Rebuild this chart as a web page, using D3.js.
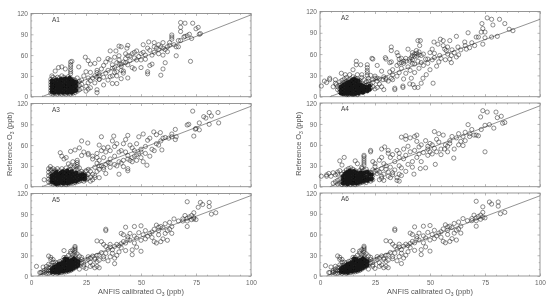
<!DOCTYPE html>
<html>
<head>
<meta charset="utf-8">
<script src="https://cdn.jsdelivr.net/npm/d3@7"></script>
<style>
  html, body { margin: 0; padding: 0; background: #fff; }
  svg { display: block; font-family: "Liberation Sans", Arial, sans-serif; }
  .tick text { fill: #666; font-size: 6.5px; }
  .axis-title { fill: #555; font-size: 7.4px; }
  .panel-label { fill: #444; font-size: 6.5px; }
</style>
</head>
<body>
<div id="chart"></div>
<script>
const panelNames = ['A1', 'A2', 'A3', 'A4', 'A5', 'A6'];
const xMajorTicks = [0, 25, 50, 75, 100];
const yMajorTicks = [0, 30, 60, 90, 120];
const xMinorTicks = [5, 10, 15, 20, 30, 35, 40, 45, 55, 60, 65, 70, 80, 85, 90, 95];
const yMinorTicks = [10, 20, 40, 50, 70, 80, 100, 110];

// fit line end points [x0, y0, x1, y1]
const fitLines = {
  A1: [5, 0, 100, 118],
  A2: [4.5, 0, 100, 109],
  A3: [5, 0, 100, 116],
  A4: [4.5, 0, 100, 116],
  A5: [3, 0, 100, 117],
  A6: [3, 0, 100, 116]
};

// [calibrated, reference] pairs
const pointsA1 = [
[9.5,30],[11,37],[12.5,42],[14,43],[15.6,40],[18,50],[18.6,51],[18,46],[18,43],[18,39],[18,36],[18,33],[21.7,43],[24.7,57],[26,52],[27,47],[29,48],[30.8,54],
[36,66],[40,73],[41,72],[38.6,66],[44,74],[43.6,70],[51,75],[53.5,79],[56,78],[58,75],[60,78],[59,72],[53,70],[54,67],[56,64],[57,70],[58,62],[60,70],[61,68],[62,72],[63,78],[64,83],[64,86],[64,89],
[68,107],[70,106],[73.5,106],[68,100],[68,94],[72,90],[70,87],[71,88],[76,100],[75,98],[77,91],[76.5,90],[73,84],[68,81],[67,81],[69.5,86],[72.5,51],[66,59],[67,72],[63,74],[61,49],[60,40],[59,31],[54,45],[55,47],[53,33],[53,36],[47,40],[50,42],[48,53],[50,53],[44,27],[41,38],[39,19],[37,19],[36,29],[35,24],[33,17],[31,25],[29,20],[27,13],[25,15],
[30,38],[30,35],[31,33],[32,40],[33,45],[34,50],[35,55],[36,53],[37,46],[38,42],[38,57],[38,35],[39,30],[39,49],[40,53],[40,59],[41,44],[41,26],[42,34],[42,37],[42,50],[43,62],[43,55],[44,46],[45,52],[45,59],[46,42],[46,62],[47,64],[47,56],[48,66],[49,58],[50,62],[51,64],[52,54],[52,60],[55,60],[56,72],[58,68],[60,60],[62,65],[65,75],[66,72],
[24,30],[25,36],[26,20],[26,27],[27,35],[27,23],[28,27],[29,30],[30,28],[31,30],[31,25],[30,10],[25,8],[26,11],[30,6],[33,28],[34,34],[35,38],[37,30],[37,41],[39,36],[41,47],[43,49],[44,59],[40,47],
[9,5],[9,9],[9,13],[9,17],[9,21],[9,25],[10,4],[10,8],[10,12],[10,16],[10,20],[10,24],[10,28],[11,5],[11,10],[11,14],[11,18],[11,22],[11,26],[12,4],[12,8],[12,12],[12,16],[12,20],[12,24],[12,28],[13,5],[13,9],[13,14],[13,18],[13,23],[13,27],[14,4],[14,8],[14,12],[14,17],[14,21],[14,25],[14,30],[15,5],[15,10],[15,14],[15,19],[15,23],[15,28],[16,4],[16,8],[16,12],[16,17],[16,22],[16,26],[17,5],[17,9],[17,14],[17,19],[17,24],[17,29],[18,4],[18,8],[18,12],[18,16],[18,21],[18,26],[19,5],[19,10],[19,15],[19,20],[19,25],[20,6],[20,12],[20,18],[20,24],[21,8],[21,14],[21,20],[21,27],[22,10],[22,16],[22,22],[23,12],[23,18],[23,24]
];
const clusterA1 = [
[9.5,7],[9.5,11],[9.5,15],[9.5,19],[9.5,23],[10.5,6],[10.5,10],[10.5,14],[10.5,18],[10.5,22],[11.5,7],[11.5,12],[11.5,16],[11.5,20],[11.5,24],[12.5,6],[12.5,10],[12.5,14],[12.5,18],[12.5,22],[13.5,7],[13.5,11],[13.5,16],[13.5,20],[13.5,25],[14.5,6],[14.5,10],[14.5,15],[14.5,19],[14.5,24],[15.5,7],[15.5,12],[15.5,16],[15.5,21],[15.5,26],[16.5,6],[16.5,10],[16.5,15],[16.5,19],[16.5,24],[17.5,7],[17.5,11],[17.5,16],[17.5,21],[17.5,27],[18.5,6],[18.5,10],[18.5,14],[18.5,19],[18.5,24],[19.5,8],[19.5,12],[19.5,17],[19.5,22],[20.5,9],[20.5,15],[20.5,21]
];

const pointsA2 = [
[0.6,15],[2,22],[4.4,26],[4.4,24],[7,24],[7,19],[7.4,17],[9.7,33],[11.5,31],[13.5,31],[15,38],[16.5,50],[16.5,45],[18.5,45],[21.5,45],[21.5,41],[21.5,37],[21.5,34],[21.5,30],[23.6,54],[24,53],[26,44],[28,36],[28.6,24],[30,24],[29,10],[29.7,55],[30,53],[31.7,48],[32.4,49],[32.4,70],[32.4,65],[31.7,35],[32.4,26],[33,31],[34,12],[34,10],[35,62],[35.5,58],[36,53],[37,54],[37.7,13],[37.7,15],[40,67],[40.8,53],[41.5,55],[43,60],[43.8,65],[44.5,79],[45.6,79],[45.3,72],[46,58],[44.5,50],[43,46],[41.5,26],[40.8,18],[42.3,17],[43,13],[44.5,13],[46,19],[46.8,26],[48.3,31],[50,38],[49,53],[50,62],[51.4,19],[51,67],[51.8,77],[53.6,74],[54.7,81],[56,79],[53,43],[52,55],[54.4,58],[56.7,67],[57.4,65],[58,60],[59,53],[59.7,58],[59.7,48],[59,79],[62,85],[62.7,70],[65.8,77],[66.5,67],[67.3,90],[70.3,72],[71,84],[72,84],[73.3,91],[73.6,103],[74,96],[75,91],[74,74],[75,83],[76,111],[78,109],[78.6,101],[78,84],[80.6,85],[81.6,109],[84,103],[86,95],[87.7,93],
[25,26],[26,22],[27,25],[29,28],[31,22],[33,24],[33,38],[35,29],[35,44],[36,34],[37,40],[38,25],[38,47],[39,33],[39,50],[40,42],[41,37],[42,47],[42,62],[43,34],[44,57],[45,40],[46,48],[47,44],[47,60],[48,53],[49,47],[51,52],[52,61],[54,49],[55,54],[56,72],[57,52],[58,70],[60,66],[61,62],[62,56],[63,59],[64,66],[66,72],[68,69],[69,76],[36,47],[37,48],[38,50],[39,54],[41,50],[42,52],[43,57],[44,61],[45,59],[45,63],[42,58],
[18,20],[18,23],[19,27],[19,31],[20,24],[22,18],[22,22],[22,26],[23,12],[23,17],[23,30],[24,14],[24,20],[24,24],[25,11],[25,29],[26,13],[26,26],[27,18],[28,14],[30,26],
[8,10],[8,14],[9,7],[9,11],[9,16],[9,21],[10,5],[10,9],[10,13],[10,18],[10,23],[11,4],[11,7],[11,11],[11,15],[11,20],[11,25],[12,3],[12,6],[12,10],[12,14],[12,18],[12,22],[12,27],[13,3],[13,7],[13,11],[13,15],[13,19],[13,24],[14,4],[14,8],[14,12],[14,16],[14,20],[14,25],[15,3],[15,6],[15,10],[15,14],[15,18],[15,22],[15,28],[16,4],[16,8],[16,12],[16,16],[16,20],[16,26],[17,3],[17,7],[17,11],[17,15],[17,20],[17,25],[17,31],[18,5],[18,10],[18,15],[19,8],[19,13],[19,18],[20,7],[20,12],[20,17],[21,10],[21,16],[21,21],[3,20],[6,14]
];
const clusterA2 = [
[9.5,5],[9.5,9],[9.5,14],[10.5,4],[10.5,7],[10.5,11],[10.5,16],[11.5,5],[11.5,9],[11.5,13],[11.5,18],[12.5,4],[12.5,8],[12.5,12],[12.5,16],[12.5,20],[13.5,5],[13.5,9],[13.5,13],[13.5,17],[13.5,21],[14.5,4],[14.5,6],[14.5,10],[14.5,14],[14.5,18],[14.5,23],[15.5,4],[15.5,8],[15.5,12],[15.5,16],[15.5,20],[15.5,25],[16.5,5],[16.5,10],[16.5,14],[16.5,18],[16.5,23],[17.5,5],[17.5,9],[17.5,13],[17.5,17],[17.5,22],[18.5,7],[18.5,12],[18.5,17],[19.5,6],[19.5,10],[19.5,15],[20.5,9],[20.5,14],[21.5,8],[21.5,13],[22.5,10],[22.5,15]
];

const pointsA3 = [
[6,10],[8.8,29],[8,26],[9,25],[11,22],[13.3,49],[14,44],[15,40],[16,42],[18,51],[20,53],[22,56],[23,45],[24,50],[23,66],[25.8,63],[26,48],[26,46],[21,38],[21,35],[21,32],[21,29],[19,36],[17,33],[28,44],[29,28],[28,40],[30,42],[29,16],[31,38],[30,22],[31,13],[32,30],[31,25],[32,72],[31,60],[32,52],[33,56],[33,25],[34,19],[34,50],[35,57],[35,35],[36,52],[36,34],[36,28],[37.6,73],[37,66],[38,58],[38,44],[39,30],[39,62],[40,50],[40,18],[41,52],[41,34],[42,29],[42,62],[43,68],[43,50],[44,74],[44,26],[44,23],[44,45],[45,38],[45,60],[46,56],[46,36],[47,44],[47,52],[48,38],[48,62],[49,72],[49,48],[50,54],[50,42],[51,76],[51,36],[52,48],[52,58],[52.7,31],[53,67],[54,70],[54,44],[55,54],[55.8,79],[56,52],[57,75],[57,62],[58.8,78],[58,60],[59.5,53],[59,66],[60,70],[61,71],[62.6,70],[64,76],[65.6,68],[65.6,82.6],[64,72],[66,72],[71,89],[71.7,90],[73.5,109],[74,73],[74.7,83],[75,84],[76.5,82],[76.5,92],[78.5,101],[79.5,99],[81,107],[82,102],[81,90],[85,107],[85.3,92],[50,50],[48,46],[46,42],[44,40],[42,38],[40,36],[38,32],[36,40],[34,32],[33,28],[33,42],[31,30],[30,34],[30,48],
[8,7],[8,11],[8,16],[8,21],[9,5],[9,9],[9,14],[9,18],[9,23],[10,4],[10,8],[10,12],[10,16],[10,21],[10,26],[11,5],[11,9],[11,14],[11,18],[11,24],[12,3],[12,7],[12,11],[12,16],[12,21],[12,26],[13,4],[13,8],[13,13],[13,18],[13,23],[14,3],[14,7],[14,11],[14,15],[14,20],[14,26],[15,4],[15,8],[15,13],[15,18],[15,23],[16,3],[16,7],[16,11],[16,16],[16,21],[16,27],[17,4],[17,8],[17,13],[17,18],[17,24],[18,5],[18,9],[18,14],[18,19],[18,25],[18,30],[19,5],[19,10],[19,15],[19,21],[19,28],[20,6],[20,11],[20,17],[20,23],[20,30],[21,7],[21,13],[21,19],[21,25],[22,8],[22,14],[22,20],[22,27],[23,9],[23,15],[23,22],[24,8],[24,13],[24,19],[25,10],[25,16],[25,23],[26,12],[26,18],[26,25],[27,8],[27,14],[27,22],[28,10],[28,18],[29,13]
];
const clusterA3 = [
[9.5,7],[9.5,12],[9.5,16],[10.5,6],[10.5,10],[10.5,14],[10.5,18],[11.5,4],[11.5,7],[11.5,11],[11.5,16],[11.5,21],[12.5,5],[12.5,9],[12.5,13],[12.5,18],[13.5,6],[13.5,10],[13.5,15],[13.5,20],[14.5,5],[14.5,9],[14.5,13],[14.5,17],[14.5,22],[15.5,6],[15.5,10],[15.5,15],[15.5,20],[16.5,5],[16.5,9],[16.5,13],[16.5,18],[16.5,23],[17.5,6],[17.5,10],[17.5,15],[17.5,20],[18.5,7],[18.5,12],[18.5,16],[18.5,22],[19.5,8],[19.5,12],[19.5,18],[20.5,8],[20.5,14],[20.5,20],[21.5,10],[21.5,16],[22.5,11],[22.5,17],[23.5,12],[23.5,18],[24.5,11],[24.5,16]
];

const pointsA4 = [
[0.6,15],[3,17],[3,15],[4,19],[5,15],[7,17],[6,20],[8,21],[8,18],[9,23],[9,37],[11,42],[10,31],[14,27],[16,37],[17,33],[19,26],[20,43],[20,45],[20,40],[20,37],[20,34],[20,31],[23,52],[23,50],[24,36],[25,29],[25,33],[26,23],[27,38],[28,54],[28,26],[28,42],[29.4,57],[29,18],[29,33],[30,30],[31,48],[31,15],[31,52],[32,42],[32,28],[33,17],[33,46],[34,36],[34,24],[35,52],[36,42],[36,30],[36,48],[37,71],[37,16],[37,27],[38,54],[38,40],[39,73],[39,68],[39,22],[39,45],[40,32],[40,58],[41,70],[41,50],[42,36],[42.7,18],[42,28],[43,72],[43,52],[44,74],[44,42],[44,65],[45,47],[45,57],[45.6,26],[46,36],[46,60],[47,49],[48,66],[48,27],[49,54],[49,58],[49,45],[50,62],[50,50],[51,47],[51,60],[52,79],[52,55],[52.4,32],[53,68],[53,50],[54,76],[54,64],[55,54],[55,46],[56,74],[56.6,54],[57,60],[58,58],[58,50],[59,66],[59,62],[60,72],[60.8,41],[61,54],[62,70],[63,76],[63,60],[64,65],[65,59],[65,72],[66,66],[66,78],[67.3,89],[68,72],[69,82],[70,74],[72,73],[73.3,82],[73,100],[74,109],[76,107],[75,50],[75,88],[77,89],[79,84],[80,107],[80.6,99],[82.4,101],[83,91],[84,92],[71,74],[68,76],
[25,22],[26,19],[27,21],[27,10],[28,12],[28,15],[29,9],[30,25],[31,21],[32,13],[33,20],[35,9],[35,13],[36,18],[36,8],
[6,5],[7,7],[8,4],[8,9],[9,5],[9,11],[10,3],[10,7],[10,13],[10,18],[11,4],[11,8],[11,12],[11,16],[11,21],[12,3],[12,6],[12,10],[12,14],[12,19],[12,24],[13,4],[13,8],[13,12],[13,16],[13,20],[13,26],[14,3],[14,7],[14,11],[14,15],[14,19],[14,23],[15,4],[15,8],[15,12],[15,16],[15,20],[15,25],[16,3],[16,6],[16,10],[16,14],[16,18],[16,23],[17,4],[17,8],[17,12],[17,16],[17,21],[18,5],[18,9],[18,13],[18,18],[18,23],[19,6],[19,11],[19,16],[19,22],[19,28],[20,7],[20,12],[20,18],[20,24],[21,6],[21,11],[21,17],[21,25],[22,9],[22,15],[22,21],[23,8],[23,14],[23,20],[24,10],[24,16],[24,24]
];
const clusterA4 = [
[10.5,5],[10.5,10],[10.5,15],[11.5,6],[11.5,10],[11.5,14],[11.5,19],[12.5,4],[12.5,8],[12.5,12],[12.5,16],[12.5,21],[13.5,6],[13.5,10],[13.5,14],[13.5,18],[13.5,23],[14.5,5],[14.5,9],[14.5,13],[14.5,17],[14.5,21],[15.5,6],[15.5,10],[15.5,14],[15.5,18],[15.5,22],[16.5,5],[16.5,8],[16.5,12],[16.5,16],[16.5,20],[17.5,6],[17.5,10],[17.5,14],[17.5,19],[18.5,7],[18.5,11],[18.5,15],[18.5,20],[19.5,8],[19.5,13],[19.5,19],[20.5,9],[20.5,14],[20.5,20],[21.5,9],[21.5,14],[21.5,21],[22.5,11],[22.5,18],[23.5,11],[23.5,17]
];

const pointsA5 = [
[2.5,14],[4,5],[4.5,5],[5,6],[5.5,13],[7,14],[8,29],[9,27],[9,24],[10,20],[15,37],[17,30],[18,33],[18,36],[19,38],[20,34],[20,43],[20,41],[20,39],[20,37],[21,32],[22,29],[23,27],[24,20],[24,13],[25,11],[26,24],[27,20],[27,14],[28,16],[29,12],[29,26],[30,30],[30,14],[30,21],[31,12],[31,23],[30,51],[32,50],[33,46],[33,28],[33,25],[34,66],[34,68],[34,43],[34,33],[35,22],[35,39],[36,46],[36,42],[36,28],[37,38],[37,33],[38,26],[38,43],[38,18],[39,30],[39,46],[40,44],[40,35],[41,47],[41,41],[41,62],[42,50],[43,48],[43,37],[42,60],[43,71],[44,57],[44,54],[45,52],[45,62],[46,31],[46,38],[47,72],[47,48],[47,58],[48,42],[48,55],[49,63],[50,36],[50,52],[50,73],[51,60],[52,54],[52,66],[53,58],[54,62],[55,56],[55,64],[56,68],[56,50],[57,48],[57,74],[58,66],[58,60],[59,50],[59,72],[60,70],[60,54],[61,62],[61,76],[62,52],[62,66],[63,78],[63,68],[64,72],[64,62],[58,71],[65,83],[67,80],[69,83],[69,80],[70,88],[71,84],[71,72],[71,80],[72,86],[73,88],[73,82],[74,92],[74,85],[75,82],[76,100],[71,108],[77,107],[78,104],[81,101],[81,107],[82,90],[84,92],[74,83],
[6,8],[6,5],[7,4],[7,7],[7,10],[8,4],[8,8],[8,12],[8,17],[9,5],[9,8],[9,12],[9,16],[10,4],[10,7],[10,11],[10,15],[10,24],[11,5],[11,8],[11,12],[11,16],[11,20],[12,4],[12,7],[12,11],[12,15],[12,19],[13,5],[13,8],[13,12],[13,16],[13,21],[14,5],[14,9],[14,13],[14,17],[14,22],[15,6],[15,10],[15,14],[15,18],[15,23],[15,27],[16,6],[16,10],[16,14],[16,18],[16,22],[16,27],[17,7],[17,11],[17,15],[17,19],[17,24],[18,8],[18,12],[18,16],[18,20],[18,25],[19,10],[19,14],[19,18],[19,22],[19,27],[19,31],[20,12],[20,16],[20,21],[20,26],[20,30],[21,14],[21,18],[21,24],[22,10],[22,16],[22,22],[23,19],[23,24],[24,16],[25,22],[26,28],[27,26],[28,29],[29,24],[31,30],[32,34]
];
const clusterA5 = [
[9.5,6],[9.5,10],[10.5,6],[10.5,9],[10.5,13],[11.5,6],[11.5,10],[11.5,14],[12.5,5],[12.5,9],[12.5,13],[12.5,17],[13.5,7],[13.5,10],[13.5,14],[13.5,18],[14.5,7],[14.5,11],[14.5,15],[14.5,20],[15.5,8],[15.5,12],[15.5,16],[15.5,20],[15.5,25],[16.5,8],[16.5,12],[16.5,16],[16.5,20],[16.5,24],[17.5,9],[17.5,13],[17.5,17],[17.5,22],[18.5,10],[18.5,14],[18.5,18],[18.5,23],[19.5,12],[19.5,16],[19.5,20],[19.5,25],[20.5,14],[20.5,19],[20.5,23],[21.5,16],[21.5,21]
];

const pointsA6 = [
[2.5,15],[4,5],[4.5,5],[5,13],[6,6],[7,14],[8,29],[9,27],[9,24],[10,20],[15,37],[17,30],[18,33],[18,36],[19,38],[20,34],[20,43],[20,41],[20,39],[20,37],[21,32],[22,29],[23,27],[24,20],[24,14],[25,11],[26,24],[27,19],[27,14],[28,16],[29,12],[29,26],[30,30],[30,14],[30,21],[31,12],[31,23],[30,51],[32,50],[33,46],[33,28],[33,25],[34,66],[34,68],[34,43],[34,33],[35,22],[35,39],[36,46],[36,42],[36,28],[37,38],[37,33],[38,26],[38,43],[37,18],[39,30],[39,46],[40,44],[40,35],[41,47],[41,41],[41,62],[42,50],[43,48],[43,37],[42,60],[43,71],[44,57],[44,54],[45,52],[45,62],[46,31],[46,38],[47,72],[47,48],[47,58],[48,42],[48,55],[49,63],[50,36],[50,52],[50,73],[51,60],[52,54],[52,66],[53,58],[54,62],[55,56],[55,64],[56,68],[56,50],[57,48],[57,74],[58,66],[58,60],[59,50],[59,72],[60,70],[60,54],[61,62],[61,76],[62,52],[62,66],[63,78],[63,68],[64,72],[64,62],[58,71],[65,83],[67,80],[69,83],[69,80],[70,88],[71,84],[71,72],[71,80],[72,86],[73,88],[73,82],[74,92],[74,85],[75,84],[74,100],[71,108],[77,107],[78,104],[81,101],[81,107],[82,90],[84,92],
[6,8],[6,5],[7,4],[7,7],[7,10],[8,4],[8,8],[8,12],[9,5],[9,8],[9,12],[9,16],[10,4],[10,7],[10,11],[10,15],[10,24],[11,5],[11,8],[11,12],[11,16],[11,20],[12,4],[12,7],[12,11],[12,15],[12,19],[13,5],[13,8],[13,12],[13,16],[13,21],[14,5],[14,9],[14,13],[14,17],[14,22],[15,6],[15,10],[15,14],[15,18],[15,23],[15,27],[16,6],[16,10],[16,14],[16,18],[16,22],[16,27],[17,7],[17,11],[17,15],[17,19],[17,24],[18,8],[18,12],[18,16],[18,20],[18,25],[19,10],[19,14],[19,18],[19,22],[19,27],[19,31],[20,12],[20,16],[20,21],[20,26],[20,30],[21,14],[21,18],[21,24],[22,10],[22,16],[22,22],[23,19],[23,24],[24,16],[25,22],[26,28],[27,26],[28,29],[29,24],[31,30],[32,34]
];
const clusterA6 = [
[9.5,6],[9.5,10],[10.5,6],[10.5,9],[10.5,13],[11.5,6],[11.5,10],[11.5,14],[12.5,5],[12.5,9],[12.5,13],[12.5,17],[13.5,7],[13.5,10],[13.5,14],[13.5,18],[14.5,7],[14.5,11],[14.5,15],[14.5,20],[15.5,8],[15.5,12],[15.5,16],[15.5,20],[15.5,25],[16.5,8],[16.5,12],[16.5,16],[16.5,20],[16.5,24],[17.5,9],[17.5,13],[17.5,17],[17.5,22],[18.5,10],[18.5,14],[18.5,18],[18.5,23],[19.5,12],[19.5,16],[19.5,20],[19.5,25],[20.5,14],[20.5,19],[20.5,23],[21.5,16],[21.5,21]
];

const panelPoints = { A1: pointsA1, A2: pointsA2, A3: pointsA3, A4: pointsA4, A5: pointsA5, A6: pointsA6 };
const panelClusters = { A1: clusterA1, A2: clusterA2, A3: clusterA3, A4: clusterA4, A5: clusterA5, A6: clusterA6 };

const width = 550, height = 303;
const columns = [{ left: 31, right: 251 }, { left: 320, right: 540 }];
const rows = [
  [{ top: 13.5, bottom: 96.7 }, { top: 11.5, bottom: 96.7 }],
  [{ top: 103.5, bottom: 186.7 }, { top: 103, bottom: 186.7 }],
  [{ top: 193.5, bottom: 276 }, { top: 193, bottom: 276 }]
];

const svg = d3.select('#chart').append('svg')
  .attr('width', width)
  .attr('height', height);

// the reference is a soft, resampled picture
const blur = svg.append('defs').append('filter').attr('id', 'soft')
  .attr('x', '-5%').attr('y', '-5%').attr('width', '110%').attr('height', '110%');
blur.append('feGaussianBlur').attr('stdDeviation', 0.35);

panelNames.forEach((name, i) => {
  const col = columns[i % 2];
  const row = rows[Math.floor(i / 2)][i % 2];
  const isBottom = i >= 4;

  const x = d3.scaleLinear().domain([0, 100]).range([col.left, col.right]);
  const y = d3.scaleLinear().domain([0, 120]).range([row.bottom, row.top]);

  const g = svg.append('g').attr('filter', 'url(#soft)');

  g.append('rect')
    .attr('x', col.left).attr('y', row.top)
    .attr('width', col.right - col.left).attr('height', row.bottom - row.top)
    .attr('fill', 'none').attr('stroke', '#8c8c8c').attr('stroke-width', 0.9);

  // inward ticks on all four sides
  const drawTicks = (axis, tx, ty, values, size) => {
    const a = g.append('g').attr('transform', `translate(${tx},${ty})`)
      .call(axis.tickValues(values).tickSize(size).tickFormat(''));
    a.select('.domain').remove();
    a.selectAll('.tick line').attr('stroke', '#8c8c8c').attr('stroke-width', 0.6);
  };
  drawTicks(d3.axisBottom(x), 0, row.bottom, xMajorTicks, -2.5);
  drawTicks(d3.axisBottom(x), 0, row.bottom, xMinorTicks, -1.3);
  drawTicks(d3.axisTop(x), 0, row.top, xMajorTicks, -2.5);
  drawTicks(d3.axisTop(x), 0, row.top, xMinorTicks, -1.3);
  drawTicks(d3.axisLeft(y), col.left, 0, yMajorTicks, -2.5);
  drawTicks(d3.axisLeft(y), col.left, 0, yMinorTicks, -1.3);
  drawTicks(d3.axisRight(y), col.right, 0, yMajorTicks, -2.5);
  drawTicks(d3.axisRight(y), col.right, 0, yMinorTicks, -1.3);

  // tick labels
  const yLabels = g.append('g').attr('transform', `translate(${col.left},0)`)
    .call(d3.axisLeft(y).tickValues(yMajorTicks).tickSize(0).tickPadding(3));
  yLabels.select('.domain').remove();
  if (isBottom) {
    const xLabels = g.append('g').attr('transform', `translate(0,${row.bottom})`)
      .call(d3.axisBottom(x).tickValues(xMajorTicks).tickSize(0).tickPadding(4));
    xLabels.select('.domain').remove();
  }

  // fit line
  const f = fitLines[name];
  g.append('line')
    .attr('x1', x(f[0])).attr('y1', y(f[1]))
    .attr('x2', x(f[2])).attr('y2', y(f[3]))
    .attr('stroke', '#777').attr('stroke-width', 0.8);

  g.selectAll('.point')
    .data(panelPoints[name])
    .join('circle')
    .attr('class', 'point')
    .attr('cx', d => x(d[0]))
    .attr('cy', d => y(d[1]))
    .attr('r', 2.1)
    .attr('fill', 'none')
    .attr('stroke', '#222')
    .attr('stroke-width', 0.6)
    .attr('stroke-opacity', 0.85);

  // the low range overlaps so much that it reads as nearly solid
  g.selectAll('.cluster-point')
    .data(panelClusters[name])
    .join('circle')
    .attr('class', 'cluster-point')
    .attr('cx', d => x(d[0]))
    .attr('cy', d => y(d[1]))
    .attr('r', 2)
    .attr('fill', '#1a1a1a')
    .attr('stroke', '#111')
    .attr('stroke-width', 0.6);

  g.append('text')
    .attr('class', 'panel-label')
    .attr('x', col.left + 21)
    .attr('y', row.top + 8)
    .text(name);

  // y title on the middle row, x title under the bottom row
  if (i === 2 || i === 3) {
    const t = g.append('text')
      .attr('class', 'axis-title')
      .attr('text-anchor', 'middle')
      .attr('transform', `translate(${col.left - 19},${(row.top + row.bottom) / 2 - 1}) rotate(-90)`);
    t.append('tspan').text('Reference O');
    t.append('tspan').attr('dy', 2).style('font-size', '5px').text('3');
    t.append('tspan').attr('dy', -2).text(' (ppb)');
  }
  if (isBottom) {
    const t = g.append('text')
      .attr('class', 'axis-title')
      .attr('text-anchor', 'middle')
      .attr('x', (col.left + col.right) / 2)
      .attr('y', 294);
    t.append('tspan').text('ANFIS calibrated O');
    t.append('tspan').attr('dy', 2).style('font-size', '5px').text('3');
    t.append('tspan').attr('dy', -2).text(' (ppb)');
  }
});
</script>
</body>
</html>
